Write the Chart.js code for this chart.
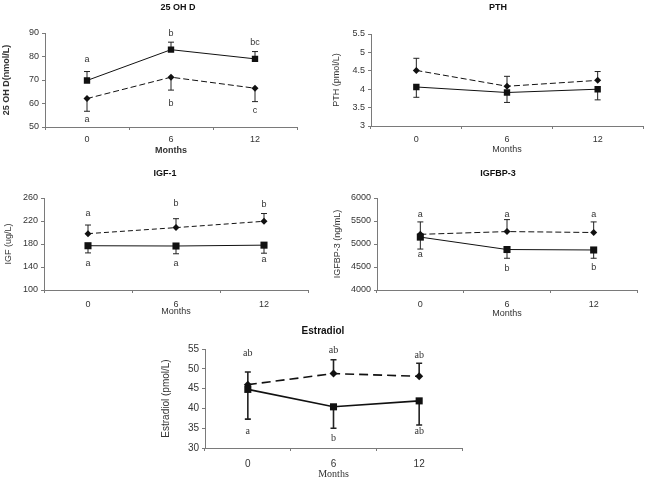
<!DOCTYPE html>
<html>
<head>
<meta charset="utf-8">
<script src="https://cdn.jsdelivr.net/npm/chart.js@4"></script>
<style>
  body { margin: 0; background: #fff; }
  #wrap { position: relative; width: 648px; height: 481px; }
  canvas { position: absolute; }
</style>
</head>
<body>
<div id="wrap">
  <canvas id="c1"></canvas>
  <canvas id="c2"></canvas>
  <canvas id="c3"></canvas>
  <canvas id="c4"></canvas>
  <canvas id="c5"></canvas>
</div>
<script>
// Categorias (meses)
const months = ['0', '6', '12'];

// 25 OH D (nmol/L)
const ohdSolid = [69.8, 82.9, 79.0];
const ohdSolidErr = [73.6, 86.1, 82.1];
const ohdDashed = [62.1, 71.2, 66.5];
const ohdDashedErr = [56.7, 65.7, 60.8];
const ohdTopLetters = ['a', 'b', 'bc'];
const ohdTopAt = [78.6, 89.6, 85.9];
const ohdBotLetters = ['a', 'b', 'c'];
const ohdBotAt = [53.3, 59.8, 57.2];

// PTH (pmol/L)
const pthSolid = [4.06, 3.91, 4.0];
const pthSolidErr = [3.78, 3.64, 3.71];
const pthDashed = [4.51, 4.08, 4.24];
const pthDashedErr = [4.84, 4.35, 4.48];

// IGF-1 (ug/L)
const igfSolid = [177, 176.5, 178];
const igfSolidErr = [164.5, 163, 164];
const igfDashed = [198, 208.5, 219.5];
const igfDashedErr = [213, 224, 233];
const igfTopLetters = ['a', 'b', 'b'];
const igfTopAt = [233, 250, 249];
const igfBotLetters = ['a', 'a', 'a'];
const igfBotAt = [146, 146, 152.5];

// IGFBP-3 (ng/mL)
const bp3Solid = [5150, 4880, 4870];
const bp3SolidErr = [4890, 4690, 4690];
const bp3Dashed = [5210, 5270, 5250];
const bp3DashedErr = [5480, 5530, 5480];
const bp3TopLetters = ['a', 'a', 'a'];
const bp3TopAt = [5650, 5650, 5650];
const bp3BotLetters = ['a', 'b', 'b'];
const bp3BotAt = [4770, 4470, 4480];

// Estradiol (pmol/L)
const e2Solid = [44.8, 40.4, 41.9];
const e2SolidErr = [37.3, 35.0, 35.8];
const e2Dashed = [46.0, 48.8, 48.1];
const e2DashedErr = [49.2, 52.3, 51.4];
const e2TopLetters = ['ab', 'ab', 'ab'];
const e2TopAt = [53.8, 54.6, 53.3];
const e2BotLetters = ['a', 'b', 'ab'];
const e2BotAt = [34.2, 32.5, 34.2];

const SANS = "'Liberation Sans', Arial, sans-serif";
const SERIF = "'Liberation Serif', 'Times New Roman', serif";
const AXIS = '#7a7a7a';
const TXT = '#333';

// Plugin: barras de error, letras y titulo del panel
const extras = {
  id: 'extras',
  beforeDatasetsDraw(chart, args, o) {
    const ctx = chart.ctx, xs = chart.scales.x, ys = chart.scales.y;
    ctx.save();
    ctx.strokeStyle = '#222';
    ctx.lineWidth = o.errWidth;
    chart.data.datasets.forEach(ds => {
      ds.errEnd.forEach((v, i) => {
        const px = xs.getPixelForValue(i);
        const p0 = ys.getPixelForValue(ds.data[i]);
        const p1 = ys.getPixelForValue(v);
        ctx.beginPath();
        ctx.moveTo(px, p0); ctx.lineTo(px, p1);
        ctx.moveTo(px - 3, p1); ctx.lineTo(px + 3, p1);
        ctx.stroke();
      });
    });
    ctx.restore();
  },
  afterDraw(chart, args, o) {
    const ctx = chart.ctx, xs = chart.scales.x, ys = chart.scales.y;
    ctx.save();
    ctx.fillStyle = TXT;
    ctx.textAlign = 'center';
    ctx.textBaseline = 'middle';
    ctx.font = o.letterFont;
    (o.letters || []).forEach(set => {
      set.text.forEach((t, i) => {
        ctx.fillText(t, xs.getPixelForValue(i), ys.getPixelForValue(set.at[i]));
      });
    });
    ctx.fillStyle = '#111';
    ctx.font = o.titleFont;
    ctx.fillText(o.title, o.titleX, o.titleY);
    ctx.restore();
  }
};

// Crea un panel con area de grafico fija
function panel(id, p) {
  const cv = document.getElementById(id);
  cv.width = p.w; cv.height = p.h;
  cv.style.left = p.x + 'px'; cv.style.top = p.y + 'px';
  const a = p.area;
  const fs = p.fontSize;
  const lh = fs * 1.2;
  return new Chart(cv, {
    type: 'line',
    data: {
      labels: months,
      datasets: [
        {
          data: p.solid, errEnd: p.solidErr,
          borderColor: '#111', backgroundColor: '#111',
          borderWidth: p.lineWidth, pointStyle: 'rect', pointRadius: p.squareR,
          pointBorderWidth: 0, tension: 0
        },
        {
          data: p.dashed, errEnd: p.dashedErr,
          borderColor: '#111', backgroundColor: '#111',
          borderWidth: p.lineWidth, borderDash: p.dash, pointStyle: 'rectRot', pointRadius: p.diamondR,
          pointBorderWidth: 0, tension: 0
        }
      ]
    },
    options: {
      responsive: false,
      animation: false,
      devicePixelRatio: 1,
      layout: { padding: { top: a.t - p.y, right: p.x + p.w - a.r, left: 0, bottom: 0 } },
      plugins: {
        legend: { display: false },
        tooltip: { enabled: false },
        extras: {
          title: p.title, titleX: p.titleX - p.x, titleY: p.titleY - p.y,
          titleFont: 'bold ' + p.titleSize + 'px ' + SANS,
          letterFont: p.letterFont, letters: p.letters, errWidth: p.errWidth
        }
      },
      scales: {
        x: {
          offset: true,
          afterFit: s => { s.height = p.y + p.h - a.b; },
          grid: { offset: true, drawOnChartArea: false, tickLength: 3, color: AXIS },
          border: { color: AXIS },
          ticks: { color: TXT, font: { family: SANS, size: fs }, padding: p.xLabelPad, maxRotation: 0 },
          title: {
            display: true, text: 'Months', color: TXT,
            font: { family: p.monthsFamily, size: p.monthsSize, weight: p.monthsWeight },
            padding: { top: 0, bottom: (p.y + p.h) - p.monthsY - p.monthsSize * 0.6 }
          }
        },
        y: {
          min: p.min, max: p.max,
          afterFit: s => { s.width = a.l - p.x; },
          grid: { drawOnChartArea: false, tickLength: 3, color: AXIS },
          border: { color: AXIS },
          ticks: {
            stepSize: p.step, color: TXT, font: { family: SANS, size: fs }, padding: 3,
            callback: v => String(Math.round(v * 100) / 100)
          },
          title: {
            display: true, text: p.yTitle, color: TXT,
            font: { family: SANS, size: fs, weight: p.yTitleWeight },
            padding: { top: p.yTitleX - p.x - lh / 2, bottom: 0 }
          }
        }
      }
    },
    plugins: [extras]
  });
}

panel('c1', {
  x: 0, y: 0, w: 310, h: 160, area: { l: 45, t: 33, r: 297, b: 127 },
  solid: ohdSolid, solidErr: ohdSolidErr, dashed: ohdDashed, dashedErr: ohdDashedErr,
  min: 50, max: 90, step: 10, fontSize: 9,
  title: '25 OH D', titleX: 178, titleY: 8, titleSize: 9,
  yTitle: '25 OH D(nmol/L)', yTitleX: 7, yTitleWeight: 'bold',
  monthsY: 151, monthsSize: 9, monthsWeight: 'bold', monthsFamily: SANS, xLabelPad: 4,
  lineWidth: 1, dash: [6, 3], squareR: 4.5, diamondR: 3.5, errWidth: 1,
  letterFont: '9px ' + SANS,
  letters: [{ text: ohdTopLetters, at: ohdTopAt }, { text: ohdBotLetters, at: ohdBotAt }]
});

panel('c2', {
  x: 330, y: 0, w: 318, h: 160, area: { l: 371, t: 34, r: 643, b: 126 },
  solid: pthSolid, solidErr: pthSolidErr, dashed: pthDashed, dashedErr: pthDashedErr,
  min: 3, max: 5.5, step: 0.5, fontSize: 9,
  title: 'PTH', titleX: 498, titleY: 8, titleSize: 9,
  yTitle: 'PTH (pmol/L)', yTitleX: 337, yTitleWeight: 'normal',
  monthsY: 150, monthsSize: 9, monthsWeight: 'normal', monthsFamily: SANS, xLabelPad: 5,
  lineWidth: 1, dash: [6, 3], squareR: 4.5, diamondR: 3.5, errWidth: 1,
  letterFont: '9px ' + SANS, letters: []
});

panel('c3', {
  x: 0, y: 162, w: 320, h: 158, area: { l: 44, t: 198, r: 308, b: 290 },
  solid: igfSolid, solidErr: igfSolidErr, dashed: igfDashed, dashedErr: igfDashedErr,
  min: 100, max: 260, step: 40, fontSize: 9,
  title: 'IGF-1', titleX: 165, titleY: 174, titleSize: 9,
  yTitle: 'IGF (ug/L)', yTitleX: 9, yTitleWeight: 'normal',
  monthsY: 312, monthsSize: 9, monthsWeight: 'normal', monthsFamily: SANS, xLabelPad: 6,
  lineWidth: 1, dash: [5, 3], squareR: 5, diamondR: 3.5, errWidth: 1,
  letterFont: '9px ' + SANS,
  letters: [{ text: igfTopLetters, at: igfTopAt }, { text: igfBotLetters, at: igfBotAt }]
});

panel('c4', {
  x: 330, y: 162, w: 318, h: 160, area: { l: 377, t: 198, r: 637, b: 290 },
  solid: bp3Solid, solidErr: bp3SolidErr, dashed: bp3Dashed, dashedErr: bp3DashedErr,
  min: 4000, max: 6000, step: 500, fontSize: 9,
  title: 'IGFBP-3', titleX: 498, titleY: 174, titleSize: 9,
  yTitle: 'IGFBP-3 (ng/mL)', yTitleX: 338, yTitleWeight: 'normal',
  monthsY: 314, monthsSize: 9, monthsWeight: 'normal', monthsFamily: SANS, xLabelPad: 6,
  lineWidth: 1, dash: [6, 3], squareR: 5, diamondR: 3.5, errWidth: 1,
  letterFont: '9px ' + SANS,
  letters: [{ text: bp3TopLetters, at: bp3TopAt }, { text: bp3BotLetters, at: bp3BotAt }]
});

panel('c5', {
  x: 155, y: 322, w: 320, h: 159, area: { l: 205, t: 349, r: 462, b: 448 },
  solid: e2Solid, solidErr: e2SolidErr, dashed: e2Dashed, dashedErr: e2DashedErr,
  min: 30, max: 55, step: 5, fontSize: 10,
  title: 'Estradiol', titleX: 323, titleY: 331, titleSize: 10,
  yTitle: 'Estradiol (pmol/L)', yTitleX: 166, yTitleWeight: 'normal',
  monthsY: 474, monthsSize: 10, monthsWeight: 'normal', monthsFamily: SERIF, xLabelPad: 7,
  lineWidth: 1.6, dash: [9, 5], squareR: 5, diamondR: 4, errWidth: 1.6,
  letterFont: '10px ' + SERIF,
  letters: [{ text: e2TopLetters, at: e2TopAt }, { text: e2BotLetters, at: e2BotAt }]
});
</script>
</body>
</html>
